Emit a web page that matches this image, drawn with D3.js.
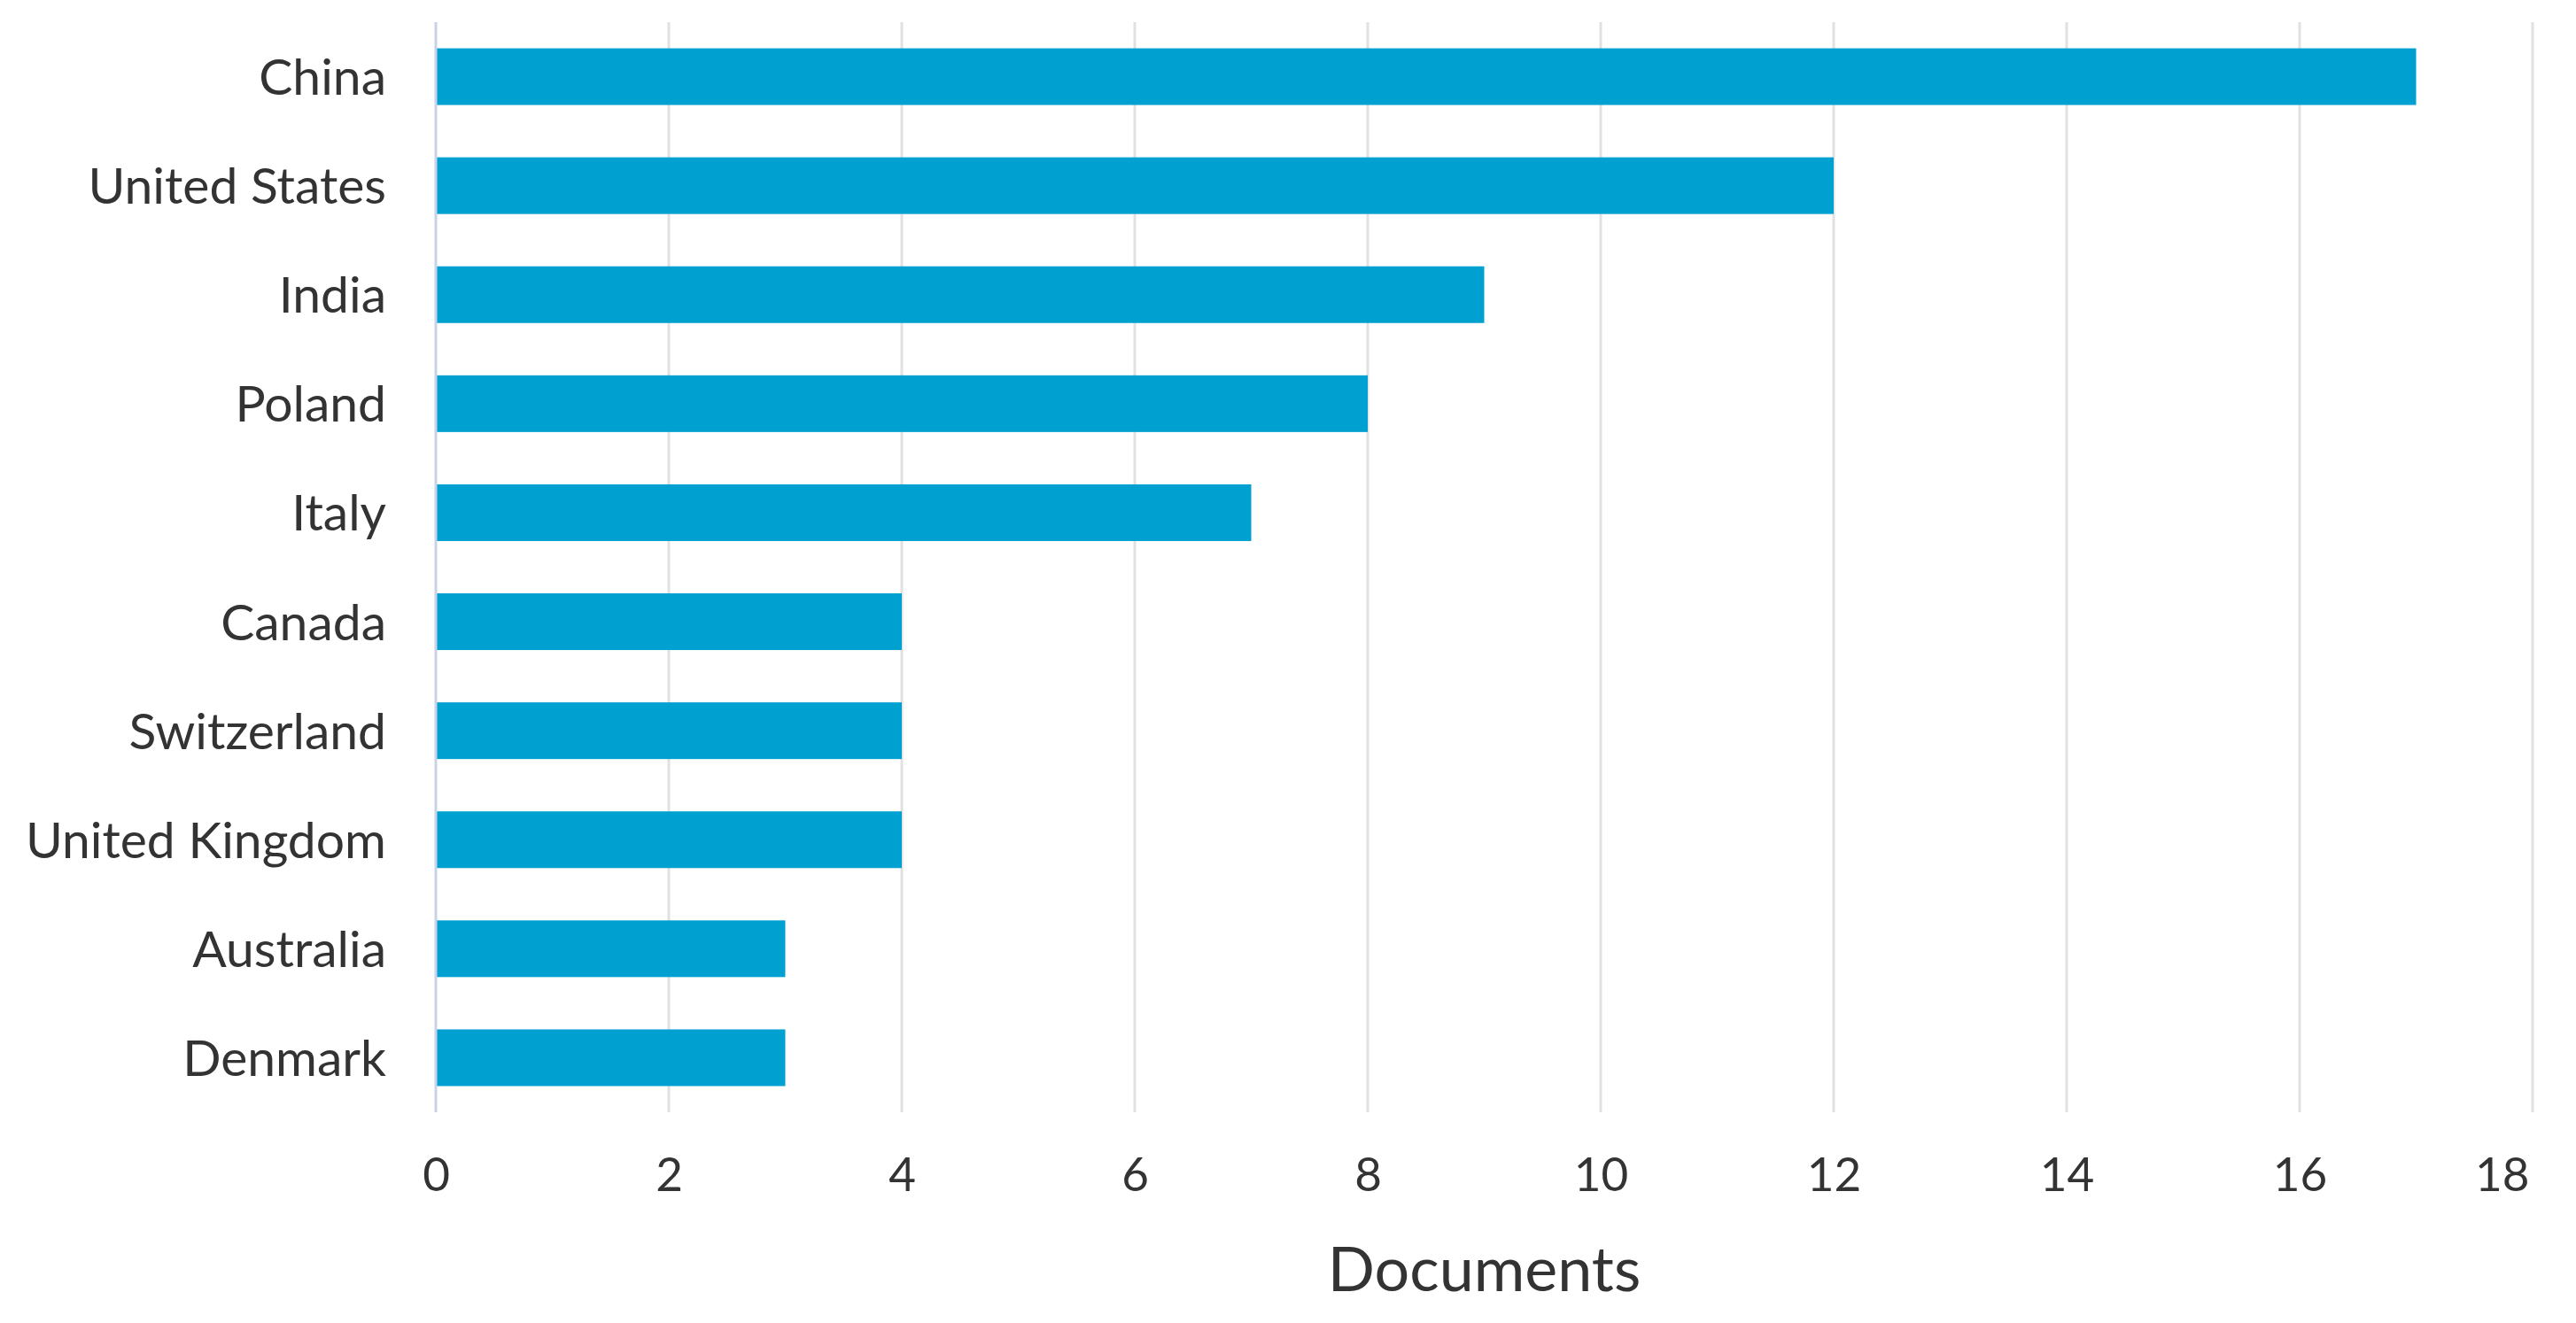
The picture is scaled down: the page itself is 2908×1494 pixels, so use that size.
<!DOCTYPE html>
<html>
<head>
<meta charset="utf-8">
<script src="https://cdn.jsdelivr.net/npm/d3@7"></script>
<style>
	body { margin: 0; background: #fff; }
	text { font-family: Lato, 'Noto Sans', sans-serif; fill: #333; }
</style>
</head>
<body>
<svg id="chart" width="2908" height="1494"></svg>
<script>
const countries = ['China', 'United States', 'India', 'Poland', 'Italy', 'Canada', 'Switzerland', 'United Kingdom', 'Australia', 'Denmark'];
const documents = [17, 12, 9, 8, 7, 4, 4, 4, 3, 3];
const xTicks = [0, 2, 4, 6, 8, 10, 12, 14, 16, 18];
const xTitle = 'Documents';

const width = 2908;
const height = 1494;
const margin = { top: 25, right: 49, bottom: 238, left: 492 };

const svg = d3.select('#chart');

const x = d3.scaleLinear()
	.domain([0, 18])
	.range([margin.left, width - margin.right]);

const y = d3.scaleBand()
	.domain(countries)
	.range([margin.top, height - margin.bottom])
	.paddingInner(0.48)
	.paddingOuter(0.24);

// gridlines
svg.append('g')
	.selectAll('line')
	.data(xTicks.slice(1))
	.join('line')
	.attr('x1', (d) => x(d))
	.attr('x2', (d) => x(d))
	.attr('y1', margin.top)
	.attr('y2', height - margin.bottom)
	.attr('stroke', '#e1e1e1')
	.attr('stroke-width', 3);

// bars
svg.append('g')
	.selectAll('rect')
	.data(countries)
	.join('rect')
	.attr('x', x(0))
	.attr('y', (d) => y(d))
	.attr('width', (d, i) => x(documents[i]) - x(0))
	.attr('height', y.bandwidth())
	.attr('fill', '#00a0d0');

// zero axis line
svg.append('line')
	.attr('x1', x(0))
	.attr('x2', x(0))
	.attr('y1', margin.top)
	.attr('y2', height - margin.bottom)
	.attr('stroke', '#c8d3e8')
	.attr('stroke-width', 3);

// x axis
const xAxis = svg.append('g')
	.attr('transform', `translate(0,${height - margin.bottom})`)
	.call(d3.axisBottom(x).tickValues(xTicks).tickSize(0).tickPadding(51));
xAxis.select('.domain').remove();
xAxis.selectAll('text')
	.style('font-size', '53px')
	.style('fill', '#333');
xAxis.selectAll('.tick:last-of-type text')
	.attr('text-anchor', 'end')
	.attr('dx', -4);

// y axis
const yAxis = svg.append('g')
	.attr('transform', `translate(${x(0)},0)`)
	.call(d3.axisLeft(y).tickSize(0).tickPadding(56));
yAxis.select('.domain').remove();
yAxis.selectAll('text')
	.attr('dy', '0.36em')
	.style('font-size', '57px')
	.style('fill', '#333');

// axis title
svg.append('text')
	.attr('x', (x(0) + x(18)) / 2)
	.attr('y', 1458)
	.attr('text-anchor', 'middle')
	.style('font-size', '70px')
	.text(xTitle);
</script>
</body>
</html>
